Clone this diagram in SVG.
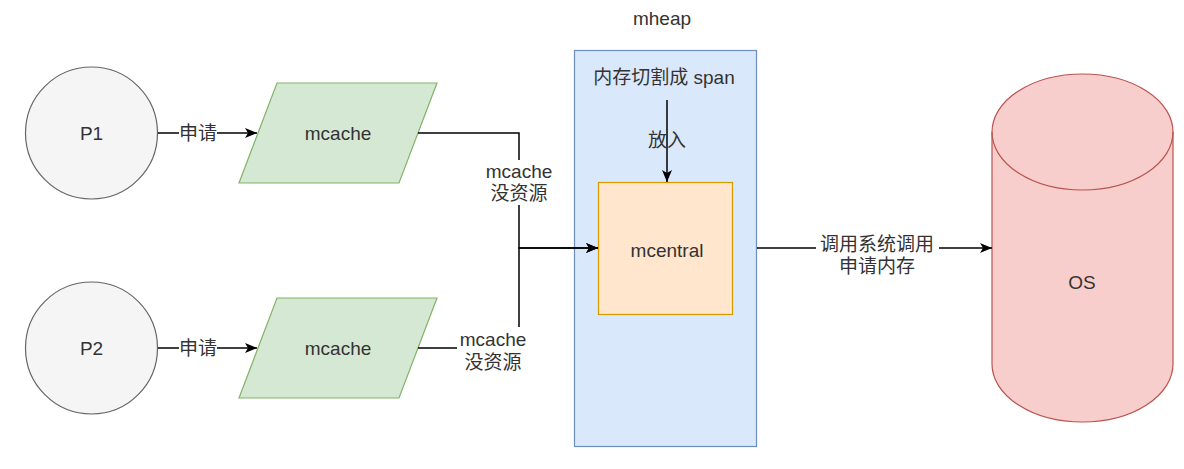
<svg xmlns="http://www.w3.org/2000/svg" width="1184" height="469" viewBox="0 0 1184 469">
<style>
  text { font-family: "Liberation Sans", "Noto Sans CJK SC", sans-serif; font-size: 19px; fill: #333333; text-anchor: middle; dominant-baseline: central; }
  .edge { fill: none; stroke: #000000; stroke-width: 1.5; }
  .lbl { fill: #ffffff; stroke: none; }
  .proc { fill: #f5f5f5; stroke: #666666; stroke-width: 1.2; }
  .cache { fill: #d5e8d4; stroke: #82b366; stroke-width: 1.2; }
</style>
<defs>
  <marker id="arrow" markerUnits="userSpaceOnUse" markerWidth="13" markerHeight="11" refX="12" refY="5" orient="auto">
    <path d="M0,0 L12,5 L0,10 L3,5 Z" fill="#000000"/>
  </marker>
</defs>
<rect width="1184" height="469" fill="#ffffff"/>

<g id="mheap">
  <rect x="574.5" y="50.5" width="182" height="396" fill="#dae8fc" stroke="#6c8ebf" stroke-width="1.2"/>
  <text x="662" y="18">mheap</text>
</g>
<g id="span-text">
  <text x="664" y="77">内存切割成 span</text>
</g>
<g id="mcentral">
  <rect x="598.5" y="182.5" width="134" height="132" fill="#ffe6cc" stroke="#d79b00" stroke-width="1.2"/>
  <text x="667" y="250">mcentral</text>
</g>
<g id="p1">
  <circle cx="91.5" cy="133" r="66" class="proc"/>
  <text x="91.5" y="133">P1</text>
</g>
<g id="p2">
  <circle cx="91.5" cy="348" r="66" class="proc"/>
  <text x="91.5" y="348">P2</text>
</g>
<g id="mcache1">
  <polygon points="277,83 437,83 399,183 239,183" class="cache"/>
  <text x="338" y="133">mcache</text>
</g>
<g id="mcache2">
  <polygon points="277,298 437,298 399,398 239,398" class="cache"/>
  <text x="338" y="348">mcache</text>
</g>
<g id="os">
  <path d="M992,132 A90.5,58 0 0 1 1173,132 L1173,364 A90.5,58 0 0 1 992,364 Z" fill="#f8cecc" stroke="#b85450" stroke-width="1.2"/>
  <path d="M992,132 A90.5,58 0 0 0 1173,132" fill="none" stroke="#b85450" stroke-width="1.2"/>
  <text x="1082" y="282">OS</text>
</g>

<g id="connectors">
  <path class="edge" d="M158,133 L257,133" marker-end="url(#arrow)"/>
  <rect class="lbl" x="179" y="122" width="38" height="22"/>
  <text x="198" y="133">申请</text>

  <path class="edge" d="M158,348 L257,348" marker-end="url(#arrow)"/>
  <rect class="lbl" x="179" y="337" width="38" height="22"/>
  <text x="198" y="348">申请</text>

  <path class="edge" d="M418,133 L519,133 L519,248 L598,248" marker-end="url(#arrow)"/>
  <path class="edge" d="M418,348 L519,348 L519,248 L598,248" marker-end="url(#arrow)"/>
  <rect class="lbl" x="483" y="160" width="72" height="45"/>
  <text x="519" y="171">mcache</text>
  <text x="519" y="193">没资源</text>
  <rect class="lbl" x="457" y="327" width="72" height="47"/>
  <text x="493" y="339">mcache</text>
  <text x="493" y="362">没资源</text>

  <path class="edge" d="M667,100 L667,182" marker-end="url(#arrow)"/>
  <text x="667" y="140">放入</text>

  <path class="edge" d="M757,248 L992,248" marker-end="url(#arrow)"/>
  <rect class="lbl" x="816" y="234" width="123" height="44"/>
  <text x="877" y="244">调用系统调用</text>
  <text x="877" y="266">申请内存</text>
</g>
</svg>
